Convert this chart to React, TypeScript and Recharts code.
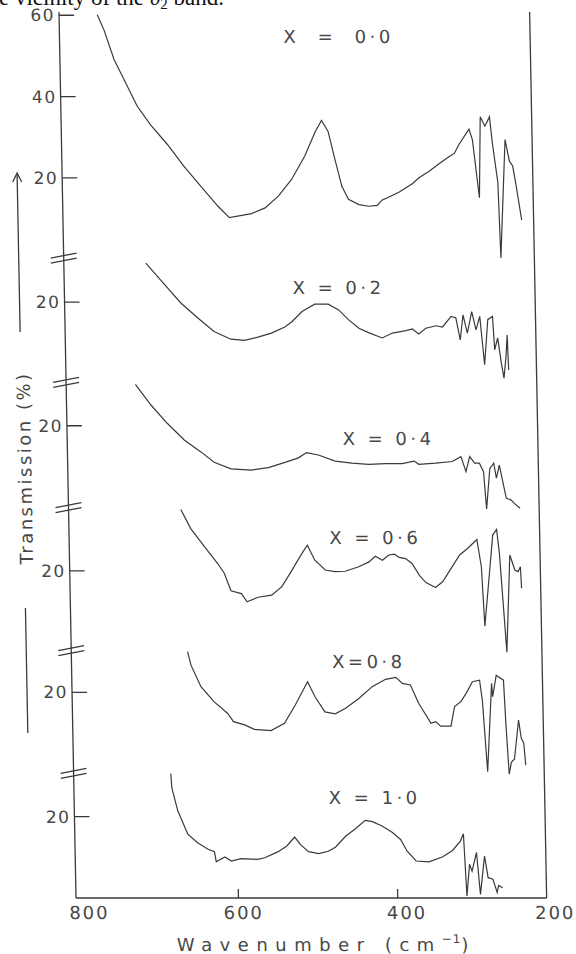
import React from 'react';
import { LineChart, Line, XAxis, YAxis, ReferenceLine, ReferenceDot } from 'recharts';

const INK = '#3a3a3a';
const TEXT = '#474747';
const FONT = '"DejaVu Sans", sans-serif';

// wavenumber (cm-1) / transmission (%)
const wn00 = [756, 748, 736, 724, 708, 692, 671, 651, 630, 609, 595, 567, 550, 533, 516, 499, 485, 477, 469, 461, 453, 445, 432, 420, 409, 403, 394, 381, 364, 356, 343, 330, 317, 311, 305, 292, 288, 285, 280.5, 277.6, 272, 266, 263, 257, 255, 247, 242, 238, 234, 228];
const tr00 = [60.1, 56.4, 49.1, 44.2, 37.6, 33.1, 28.2, 22.9, 17.9, 13.0, 10.2, 11.2, 12.6, 15.5, 19.6, 25.3, 31.4, 34.1, 31.4, 24.5, 17.9, 14.7, 13.4, 13.0, 13.2, 14.5, 15.3, 16.5, 18.6, 20.0, 21.6, 23.5, 25.3, 26.0, 28.2, 32.0, 29.4, 23.7, 15.1, 35.0, 32.7, 35.0, 28.6, 18.8, 0.3, 29.4, 24.1, 22.9, 17.9, 9.6];

const wn02 = [701, 683, 658, 637, 617, 596, 579, 562, 545, 528, 519, 506, 490, 473, 460, 448, 435, 423, 406, 393, 376, 368, 360, 351, 338, 330, 319, 313, 308, 304, 299, 293, 288, 283, 278, 273, 267, 265, 261, 257, 254, 251, 249, 248];
const tr02 = [29.6, 25.5, 19.8, 16.1, 12.8, 10.9, 10.6, 11.4, 12.4, 13.9, 15.2, 17.7, 19.5, 19.5, 18.1, 15.7, 13.6, 12.5, 11.2, 12.4, 13.0, 13.4, 12.2, 13.6, 14.2, 13.9, 16.5, 16.1, 10.7, 16.9, 12.4, 17.7, 13.2, 16.5, 4.6, 15.7, 16.5, 8.3, 11.2, 5.0, 1.3, 6.6, 11.9, 3.3];

const wn04 = [717, 698, 678, 657, 636, 620, 599, 574, 552, 531, 514, 504, 489, 468, 447, 426, 405, 384, 369, 363, 342, 321, 310, 304, 299, 293, 287, 282, 279, 274, 269, 266, 262, 258, 254, 248, 244, 237];
const tr04 = [30.2, 25.1, 20.6, 16.5, 13.5, 11.0, 9.4, 9.1, 9.7, 11.0, 12.1, 13.4, 12.8, 11.3, 10.8, 10.5, 10.7, 10.7, 11.3, 10.5, 10.8, 11.2, 12.4, 8.7, 12.4, 10.8, 10.8, 8.7, -0.5, 9.5, 10.8, 7.1, 10.3, 6.2, 2.2, 1.7, 0.9, -0.3];

const wn06 = [663, 651, 634, 618, 610, 602, 589, 582, 568, 551, 538, 526, 512, 505, 496, 483, 471, 458, 441, 428, 420, 411, 403, 396, 390, 382, 374, 365, 357, 345, 336, 325, 314, 304, 292, 287, 284, 277, 272, 267, 264, 257, 251, 245, 241, 238, 237];
const tr06 = [35.1, 30.4, 25.9, 21.8, 19.4, 15.1, 14.4, 12.4, 13.5, 14.0, 16.1, 19.8, 24.3, 26.3, 22.6, 20.2, 19.8, 19.9, 21.0, 22.2, 23.6, 22.6, 23.9, 24.1, 23.3, 23.0, 21.8, 18.9, 17.1, 15.9, 17.3, 20.6, 23.9, 25.5, 27.7, 21.0, 6.4, 19.4, 28.8, 30.2, 24.3, 0.0, 23.9, 20.2, 19.8, 21.0, 15.7];

const wn08 = [658, 654, 642, 626, 609, 602, 588, 576, 555, 538, 524, 508, 499, 487, 474, 461, 444, 427, 410, 397, 389, 379, 369, 354, 348, 342, 329, 324, 316, 309, 301, 292, 289, 284, 277, 276, 271, 262, 260, 257, 254, 250, 244, 241, 238, 236];
const tr08 = [30.0, 26.7, 21.4, 17.7, 14.8, 12.8, 12.0, 10.9, 10.6, 12.4, 16.9, 22.6, 18.9, 15.2, 14.7, 16.1, 18.5, 21.4, 23.2, 23.7, 22.2, 21.8, 17.3, 12.4, 12.8, 11.7, 11.7, 16.5, 17.7, 19.8, 22.6, 23.0, 18.1, 0.5, 22.2, 18.9, 24.2, 23.0, 12.4, -0.1, 2.8, 3.6, 13.2, 8.7, 7.5, 2.1];

const wn10 = [682, 681, 674, 662, 650, 637, 629, 627, 616, 608, 596, 575, 566, 549, 538, 528, 521, 511, 498, 486, 477, 464, 451, 439, 430, 418, 405, 395, 387, 376, 360, 343, 330, 320, 316, 313, 309, 306, 300, 296, 290, 286, 280, 275, 273, 268];
const tr10 = [30.6, 27.1, 21.4, 15.7, 13.6, 12.0, 11.4, 8.9, 10.1, 9.1, 9.7, 9.5, 9.9, 11.4, 12.8, 15.0, 13.2, 11.4, 10.9, 11.5, 12.5, 15.2, 17.1, 19.1, 18.8, 17.7, 16.1, 14.4, 11.5, 9.1, 8.9, 10.1, 11.7, 14.0, 15.8, 0.5, 8.3, 6.6, 11.2, 0.9, 10.3, 5.0, 4.6, 1.4, 3.1, 2.5];

const compositions = ['X  =  0·0', 'X = 0·2', 'X = 0·4', 'X = 0·6', 'X=0·8', 'X = 1·0'];
const labelWn = [456, 462, 403, 422, 433, 429];
const labelTr = [54.8, 23.5, 16.8, 28.3, 27.5, 24.7];

// vertical shift of each trace on the stacked plot, in % units
const panelOffsets = [157.2, 126.6, 96.2, 60.5, 30.6, 0];
const panelTicks = [[20, 40, 60], [20], [20], [20], [20], [20]];
const breakMarks = [157.7, 127.1, 96.3, 61.1, 30.9];
const xTicks = [800, 600, 400, 200];

const Y_TOP = 218;
const WN_LO = 200;
const WN_HI = 804;
const WN_EDGE = 213;

const traces = [
  [wn00, tr00], [wn02, tr02], [wn04, tr04], [wn06, tr06], [wn08, tr08], [wn10, tr10],
].map(([w, t]) => w.map((v, i) => ({ w: v, t: t[i] })));

const yTickList = panelTicks.flatMap((ts, i) => ts.map((t) => ({ g: t + panelOffsets[i], label: String(t) })));
const yTickValues = yTickList.map((d) => d.g).sort((a, b) => a - b);

const xNudge: Record<number, number> = { 800: 10, 600: 5, 400: 9, 200: -2 };

const XTick = ({ x, y, payload }: any) => {
  const v = payload.value;
  return (
    <g>
      {v !== 800 && v !== 200 && <line x1={x} x2={x} y1={y} y2={y - 9} stroke={INK} strokeWidth={1.3} />}
      <text x={x + (xNudge[v] ?? 0)} y={y + 21} textAnchor="middle" fontFamily={FONT} fontSize={18} letterSpacing={2} fill={TEXT}>
        {v}
      </text>
    </g>
  );
};

const YTick = ({ x, y, payload }: any) => {
  const hit = yTickList.find((d) => Math.abs(d.g - payload.value) < 0.01);
  return (
    <g>
      <line x1={x} x2={x + 15} y1={y} y2={y} stroke={INK} strokeWidth={1.3} />
      <text x={x - 4} y={y} dy="0.36em" textAnchor="end" fontFamily={FONT} fontSize={17} letterSpacing={1.5} fill={TEXT}>
        {hit ? hit.label : ''}
      </text>
    </g>
  );
};

const BreakMark = ({ cx, cy }: any) => (
  <g stroke={INK} strokeWidth={1.3}>
    <line x1={cx - 13} y1={cy + 1} x2={cx + 13} y2={cy - 4} />
    <line x1={cx - 13} y1={cy + 6} x2={cx + 13} y2={cy + 1} />
  </g>
);

export default function App() {
  return (
    <div style={{ position: 'absolute', left: 0, top: 0, width: 576, height: 954, overflow: 'hidden', background: '#fff' }}>
      <svg width={576} height={20} style={{ position: 'absolute', left: 0, top: 0 }}>
        <text x={-1} y={5} fontFamily='"Liberation Serif", serif' fontSize={23} fill="#111">
          e vicinity of the <tspan fontStyle="italic">υ</tspan>
          <tspan dy={4} fontSize={15}>2</tspan>
          <tspan dy={-4}> band.</tspan>
        </text>
      </svg>

      <div style={{ position: 'absolute', left: 0, top: 0, width: 576, height: 954, transform: 'skewX(1.1deg)', transformOrigin: '0px 898px' }}>
        <LineChart width={576} height={954} margin={{ top: 12, right: 19, bottom: 0, left: 0 }}>
          <XAxis
            dataKey="w"
            type="number"
            domain={[WN_LO, WN_HI]}
            reversed
            allowDataOverflow
            ticks={xTicks}
            interval={0}
            tickSize={0}
            tickMargin={0}
            axisLine={false}
            tickLine={false}
            height={56}
            tick={XTick}
          />
          <YAxis
            yAxisId="main"
            type="number"
            domain={[0, Y_TOP]}
            allowDataOverflow
            ticks={yTickValues}
            interval={0}
            width={76}
            tickSize={0}
            tickMargin={0}
            tickLine={false}
            axisLine={{ stroke: INK, strokeWidth: 1.3 }}
            tick={YTick}
          />
          {panelOffsets.map((off, i) => (
            <YAxis key={i} yAxisId={`p${i}`} hide type="number" domain={[-off, Y_TOP - off]} allowDataOverflow />
          ))}

          <ReferenceLine yAxisId="main" x={WN_EDGE} stroke={INK} strokeWidth={1.3} />
          <ReferenceLine
            yAxisId="main"
            segment={[{ x: WN_HI, y: 0 }, { x: WN_EDGE, y: 0 }]}
            stroke={INK}
            strokeWidth={1.3}
          />

          {traces.map((d, i) => (
            <Line
              key={i}
              yAxisId={`p${i}`}
              data={d}
              dataKey="t"
              type="linear"
              stroke={INK}
              strokeWidth={1.2}
              dot={false}
              isAnimationActive={false}
            />
          ))}

          {breakMarks.map((g, i) => (
            <ReferenceDot key={`b${i}`} yAxisId="main" x={WN_HI} y={g} r={0} shape={BreakMark} />
          ))}

          {compositions.map((c, i) => (
            <ReferenceDot
              key={`l${i}`}
              yAxisId={`p${i}`}
              x={labelWn[i]}
              y={labelTr[i]}
              r={0}
              shape={({ cx, cy }: any) => (
                <text x={cx + 2} y={cy} dy="0.36em" textAnchor="middle" fontFamily={FONT} fontSize={18} letterSpacing={3.5} fill={TEXT} style={{ whiteSpace: 'pre' }}>
                  {c}
                </text>
              )}
            />
          ))}
        </LineChart>

        <svg width={576} height={954} style={{ position: 'absolute', left: 0, top: 0, pointerEvents: 'none' }}>
          <g stroke={INK} strokeWidth={1.3} fill="none">
            <line x1={31} y1={174} x2={31} y2={332} />
            <polyline points="26.5,182 31,173 35.5,182" />
            <line x1={31} y1={608} x2={31} y2={733} />
          </g>
          <text
            transform="translate(33,468) rotate(-90)"
            textAnchor="middle"
            dy="0.36em"
            fontFamily={FONT}
            fontSize={18}
            letterSpacing={2.5}
            fill={TEXT}
          >
            Transmission (%)
          </text>
          <text x={176} y={951} fontFamily={FONT} fontSize={18} letterSpacing={7.5} fill={TEXT}>
            Wavenumber (cm
            <tspan dy={-8} fontSize={12} letterSpacing={1}>−1</tspan>
            <tspan dy={8}>)</tspan>
          </text>
        </svg>
      </div>
    </div>
  );
}
